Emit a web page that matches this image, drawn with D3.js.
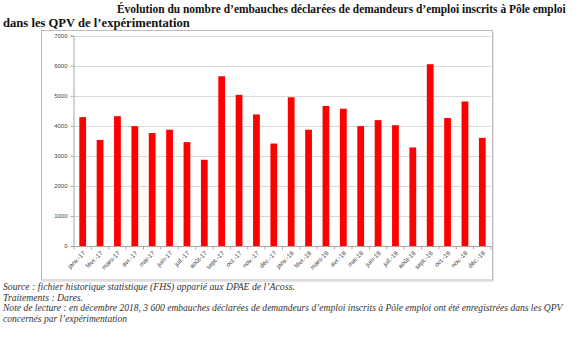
<!DOCTYPE html>
<html><head><meta charset="utf-8">
<script src="https://cdn.jsdelivr.net/npm/d3@7"></script>
<style>body{margin:0;background:#fff}svg{display:block}</style>
</head><body>
<svg id="c" width="585" height="337"></svg>
<script>
const categories = ["janv.-17","févr.-17","mars-17","avr.-17","mai-17","juin-17","juil.-17","août-17","sept.-17","oct.-17","nov.-17","déc.-17","janv.-18","févr.-18","mars-18","avr.-18","mai-18","juin-18","juil.-18","août-18","sept.-18","oct.-18","nov.-18","déc.-18"];
const values = [4290,3530,4320,3990,3760,3870,3460,2870,5650,5030,4380,3410,4950,3870,4660,4570,3990,4190,4020,3280,6050,4260,4810,3600];
const yTicks = [0,1000,2000,3000,4000,5000,6000,7000];
const titleLines = ["Évolution du nombre d’embauches déclarées de demandeurs d’emploi inscrits à Pôle emploi","dans les QPV de l’expérimentation"];
const notes = ["Source : fichier historique statistique (FHS) apparié aux DPAE de l’Acoss.","Traitements : Dares.","Note de lecture : en décembre 2018, 3 600 embauches déclarées de demandeurs d’emploi inscrits à Pôle emploi ont été enregistrées dans les QPV","concernés par l’expérimentation"];

const svg = d3.select("#c");
const x = d3.scaleBand().domain(categories).range([74, 491]).paddingInner(0.61).paddingOuter(0.305);
const y = d3.scaleLinear().domain([0,7000]).range([246, 35.7]);

function fitText(sel, base){
  sel.each(function(d){
    const n = this.getComputedTextLength();
    d3.select(this).style("font-size", (base * d.w / n).toFixed(2) + "px");
  });
}

// title
const tl = [{t:titleLines[0],x:117,y:12.5,w:449},{t:titleLines[1],x:3,y:26.5,w:187}];
const tt = svg.selectAll("text.title").data(tl).join("text").attr("class","title")
  .attr("x",d=>d.x).attr("y",d=>d.y)
  .style("font-family","Liberation Serif").style("font-weight","bold").style("font-size","12px").style("fill","#111")
  .text(d=>d.t);
fitText(tt, 12);

// frame
svg.append("rect").attr("x",41.5).attr("y",30.5).attr("width",451).attr("height",249.5)
  .attr("fill","#fff").attr("stroke","#bdbdbd").attr("stroke-width",1);
svg.append("line").attr("x1",493.5).attr("x2",493.5).attr("y1",31).attr("y2",281).attr("stroke","#e6e6e6");
svg.append("line").attr("x1",42).attr("x2",494).attr("y1",281.5).attr("y2",281.5).attr("stroke","#e6e6e6");

// gridlines
svg.append("g").selectAll("line").data(yTicks.filter(d=>d>0)).join("line")
  .attr("x1",74).attr("x2",491).attr("y1",d=>Math.round(y(d))+0.5).attr("y2",d=>Math.round(y(d))+0.5)
  .attr("stroke","#d9d9d9").attr("stroke-width",1);

// y axis
const ya = svg.append("g").attr("transform","translate(73.5,0)")
  .call(d3.axisLeft(y).tickValues(yTicks).tickSize(3).tickPadding(3).tickFormat(d3.format("d")));
ya.select(".domain").attr("stroke","#a6a6a6");
ya.selectAll(".tick line").attr("stroke","#a6a6a6");
ya.selectAll("text").style("font-family","Liberation Sans").style("font-size","6px").style("fill","#444");

// bars
svg.append("g").selectAll("rect").data(values).join("rect")
  .attr("x",(d,i)=>x(categories[i])).attr("width",x.bandwidth())
  .attr("y",d=>y(d)).attr("height",d=>y(0)-y(d)).attr("fill","#ff0000");

// x axis
const step = x.step();
svg.append("line").attr("x1",73.5).attr("x2",491).attr("y1",246.5).attr("y2",246.5).attr("stroke","#a6a6a6");
svg.append("g").selectAll("line").data(d3.range(categories.length+1)).join("line")
  .attr("x1",d=>74+d*step).attr("x2",d=>74+d*step).attr("y1",246).attr("y2",249.5).attr("stroke","#a6a6a6");
svg.append("g").selectAll("text").data(categories).join("text")
  .attr("transform",d=>`translate(${x(d)+x.bandwidth()/2+1.5},${252}) rotate(-45)`)
  .attr("text-anchor","end").attr("dy","0.35em")
  .style("font-family","Liberation Sans").style("font-size","6.3px").style("fill","#444")
  .text(d=>d);

// notes
const nl = [{t:notes[0],y:290,w:292},{t:notes[1],y:300.5,w:80},{t:notes[2],y:311,w:560},{t:notes[3],y:321.5,w:124}];
const nt = svg.selectAll("text.note").data(nl).join("text").attr("class","note")
  .attr("x",3).attr("y",d=>d.y)
  .style("font-family","Liberation Serif").style("font-style","italic").style("font-size","10px").style("fill","#333")
  .text(d=>d.t);
fitText(nt, 10);
</script>
</body></html>
